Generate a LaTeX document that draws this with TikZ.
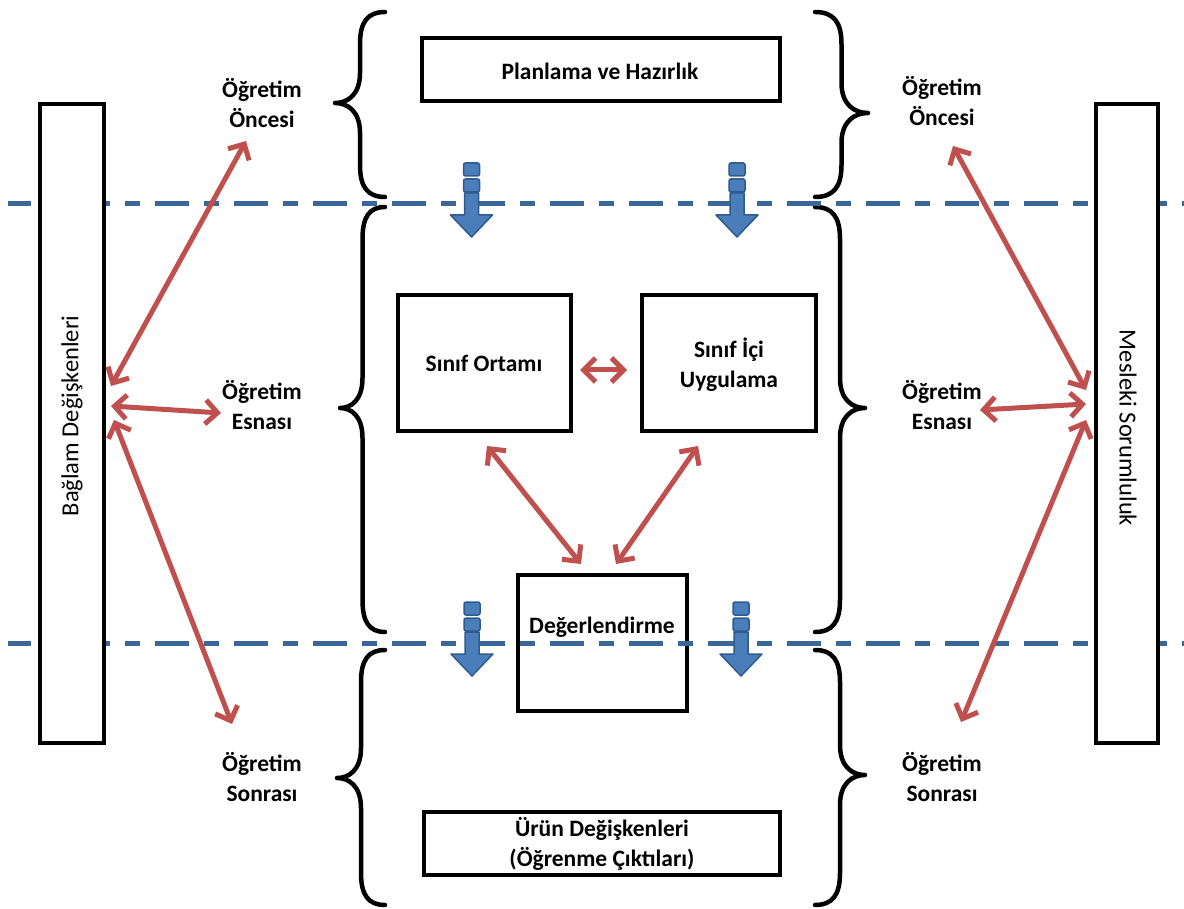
\documentclass[tikz,border=0pt]{standalone}
\usepackage{fontspec}
\setmainfont{Carlito}
\usetikzlibrary{arrows.meta,calc}
\definecolor{myred}{HTML}{C0504D}
\definecolor{dashblue}{HTML}{3B6699}
\definecolor{arrfill}{HTML}{4A7EBB}
\definecolor{arrdraw}{HTML}{2F5A8C}
% #1 end x, #2 tip x, #3 top y, #4 tip y, #5 bottom y
\newcommand\mybrace[5]{%
  \draw[bracestyle] (#1,#3) .. controls ({#1+0.35*(#2-#1)},#3) and ({0.5*(#1+#2)},{#3+10}) .. ({0.5*(#1+#2)},{#3+32})
    -- ({0.5*(#1+#2)},{#4-30}) .. controls ({0.5*(#1+#2)},{#4-8}) and ({#2-0.25*(#2-#1)},#4) .. (#2,#4)
    .. controls ({#2-0.25*(#2-#1)},#4) and ({0.5*(#1+#2)},{#4+8}) .. ({0.5*(#1+#2)},{#4+30})
    -- ({0.5*(#1+#2)},{#5-32}) .. controls ({0.5*(#1+#2)},{#5-10}) and ({#1+0.35*(#2-#1)},#5) .. (#1,#5);}
\tikzset{
  bracestyle/.style={draw=black, line width=4.5pt, line cap=round, line join=round},
  box/.style={draw=black, line width=4pt, fill=white, inner sep=0pt},
  lab/.style={font=\fontsize{23.5}{30}\selectfont\bfseries, align=center, inner sep=0pt},
  vlab/.style={font=\fontsize{24.5}{30}\selectfont, inner sep=0pt},
  rar/.style={draw=myred, line width=5pt, line cap=round,
    {Straight Barb[length=12pt,width=24pt]}-{Straight Barb[length=12pt,width=24pt]}},
  dashline/.style={draw=dashblue, line width=5pt, dash pattern=on 34pt off 15pt on 15pt off 15pt, dash phase=11pt},
  pics/striped/.style={code={
    \draw[fill=arrfill, draw=arrdraw, line width=1.5pt, rounded corners=2pt] (-8,0) rectangle (8,13);
    \draw[fill=arrfill, draw=arrdraw, line width=1.5pt, rounded corners=2pt] (-8,16) rectangle (8,29);
    \draw[fill=arrfill, draw=arrdraw, line width=1.5pt, line join=round] (-7,30) -- (7,30) -- (7,52) -- (21,52) -- (0,74) -- (-21,52) -- (-7,52) -- cycle;
  }}
}
\begin{document}
\begin{tikzpicture}[x=1pt, y=-1pt]
\useasboundingbox (0,0) rectangle (1184,909);

% braces
\mybrace{385}{335}{12}{103}{197}
\mybrace{385}{340}{207}{408}{632}
\mybrace{385}{337}{650}{778}{905}
\mybrace{815}{868}{12}{113}{197}
\mybrace{815}{865}{207}{408}{632}
\mybrace{815}{865}{650}{775}{905}

% boxes
\node[box, minimum width=358pt, minimum height=63pt] (plan) at (601,69.5) {};
\node[lab] (plant) at (600,71) {Planlama ve Hazırlık};
\node[box, minimum width=173pt, minimum height=136pt] (ortam) at (484.5,363) {};
\node[lab] (ortamt) at (484,363) {Sınıf Ortamı};
\node[box, minimum width=174pt, minimum height=136pt] (uyg) at (729,363) {};
\node[lab] (uygt) at (729,365) {Sınıf İçi\\Uygulama};
\node[box, minimum width=169pt, minimum height=136pt] (deg) at (602.5,643) {};
\node[box, minimum width=356pt, minimum height=63pt] (urun) at (602,843.5) {};
\node[lab] (urunt) at (602,844) {Ürün Değişkenleri\\(Öğrenme Çıktıları)};

% dashed lines
\coordinate (d1a) at (8,204);
\coordinate (d1b) at (1184,204);
\coordinate (d2a) at (8,643);
\coordinate (d2b) at (1184,643);
\draw[dashline] (d1a) -- (d1b);
\draw[dashline] (d2a) -- (d2b);

\node[lab] (degt) at (602,627) {Değerlendirme};

% tall boxes
\node[box, minimum width=64pt, minimum height=639pt] (bag) at (72,423.5) {};
\node[vlab, rotate=90] (bagt) at (72,416) {Bağlam Değişkenleri};
\node[box, minimum width=62pt, minimum height=639pt] (mes) at (1127,423.5) {};
\node[vlab, rotate=-90] (mest) at (1128,428) {Mesleki Sorumluluk};

% side labels
\node[lab] (lpre) at (262,103) {Öğretim\\Öncesi};
\node[lab] (ldur) at (262,405) {Öğretim\\Esnası};
\node[lab] (lpost) at (262,777) {Öğretim\\Sonrası};
\node[lab] (rpre) at (942,101) {Öğretim\\Öncesi};
\node[lab] (rdur) at (942,405) {Öğretim\\Esnası};
\node[lab] (rpost) at (942,777) {Öğretim\\Sonrası};

% striped arrows
\pic (s1) at (471.5,163) {striped};
\pic (s2) at (737,163) {striped};
\pic (s3) at (472,602) {striped};
\pic (s4) at (741,602) {striped};

% red arrows left
\coordinate (bl1) at (111,386);
\coordinate (bl2) at (111,406);
\coordinate (bl3) at (114,420);
\coordinate (lp1) at (246,141);
\coordinate (ld1) at (221,413);
\coordinate (lq1) at (232,724);
\draw[rar] (bl1) -- (lp1);
\draw[rar] (bl2) -- (ld1);
\draw[rar] (bl3) -- (lq1);

% red arrows right
\coordinate (mr1) at (1086,390);
\coordinate (mr2) at (1086,404);
\coordinate (mr3) at (1086,420);
\coordinate (rp1) at (953,146);
\coordinate (rd1) at (980,410);
\coordinate (rq1) at (961,722);
\draw[rar] (mr1) -- (rp1);
\draw[rar] (mr2) -- (rd1);
\draw[rar] (mr3) -- (rq1);

% inner arrows
\coordinate (o1) at (580,370);
\coordinate (u1) at (627,370);
\draw[rar] (o1) -- (u1);
\coordinate (o2) at (487,446);
\coordinate (g1) at (581,564);
\draw[rar] (o2) -- (g1);
\coordinate (u2) at (698,446);
\coordinate (g2) at (616,564);
\draw[rar] (u2) -- (g2);
\end{tikzpicture}
\end{document}
